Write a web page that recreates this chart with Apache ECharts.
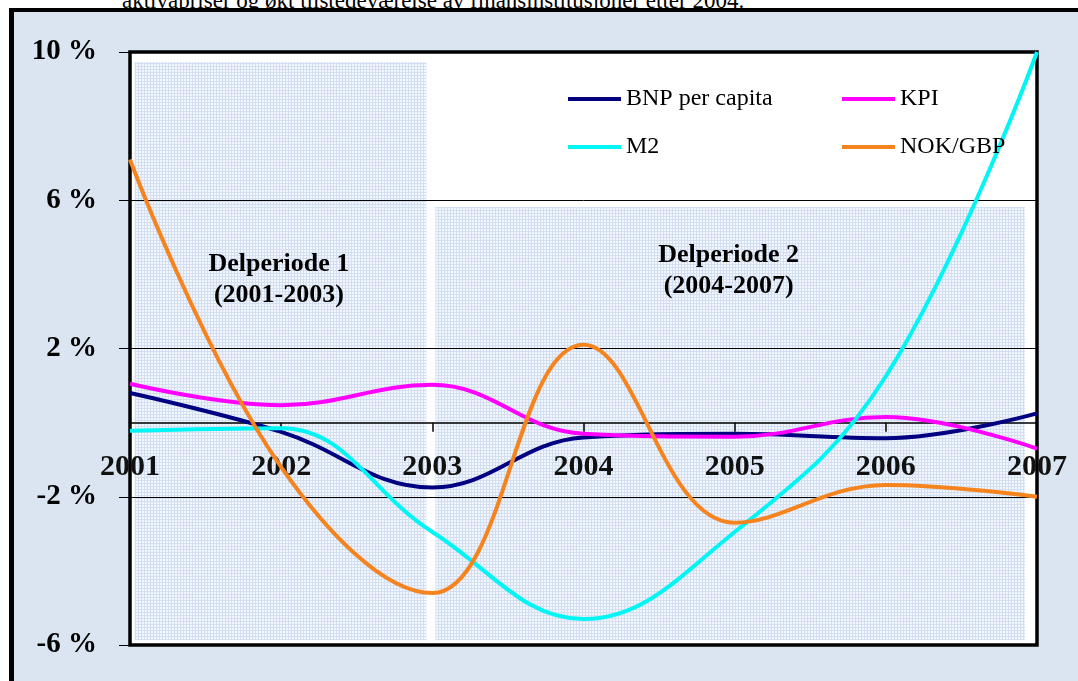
<!DOCTYPE html>
<html>
<head>
<meta charset="utf-8">
<script src="https://cdn.jsdelivr.net/npm/echarts@6/dist/echarts.min.js"></script>
<style>
  html, body { margin: 0; padding: 0; background: #fff; width: 1078px; height: 681px; overflow: hidden; }
  #caption { position: absolute; left: 122px; top: -11px; font: 23px/23px "Liberation Serif", "Times New Roman", serif; color: #000; white-space: nowrap; z-index: 0; }
  #frame { position: absolute; left: 9px; top: 8px; width: 1200px; height: 800px; border-left: 5px solid #000; border-top: 4px solid #000; background: #dbe5f1; z-index: 1; }
  #chart { position: absolute; left: 0; top: 0; width: 1078px; height: 681px; z-index: 2; }
</style>
</head>
<body>
<div id="caption">aktivapriser og økt tilstedeværelse av finansinstitusjoner etter 2004.</div>
<div id="frame"></div>
<div id="chart"></div>
<script>
// Annual growth rates, per cent
const years = [2001, 2002, 2003, 2004, 2005, 2006, 2007];
const bnpPerCapita = [0.8, -0.25, -1.75, -0.4, -0.3, -0.42, 0.25];
const kpi = [1.05, 0.47, 1.02, -0.3, -0.38, 0.15, -0.7];
const m2 = [-0.22, -0.15, -2.95, -5.3, -2.95, 1.25, 10];
const nokGbp = [7.1, -1.2, -4.6, 2.1, -2.7, -1.68, -2.0];

const seriesNames = ['BNP per capita', 'KPI', 'M2', 'NOK/GBP'];
const seriesColors = ['#000080', '#ff00ff', '#00f5f5', '#f5841f'];

// Sub-periods: [from year, to year, upper value, lower value]
const periods = [
  [2001.03, 2002.96, 9.73, -5.87],
  [2003.02, 2006.92, 5.82, -5.87]
];
const periodTitles = ['Delperiode 1\n(2001-2003)', 'Delperiode 2\n(2004-2007)'];
const periodTitleAnchors = [[2001.985, 3.85], [2004.96, 4.09]];

const yTicks = { min: -6, max: 10, step: 4 };

const serif = '"Liberation Serif", "Times New Roman", serif';

// plot rectangle inside the 1078x681 canvas
const gridBox = { left: 130, right: 41, top: 52, bottom: 36 };
const plotHeight = 681 - gridBox.top - gridBox.bottom;
// the year axis crosses the value axis at 0 %
const yearAxisOffset = -plotHeight * (0 - yTicks.min) / (yTicks.max - yTicks.min);

function dotPattern() {
  const c = document.createElement('canvas');
  c.width = 3; c.height = 3;
  const g = c.getContext('2d');
  g.fillStyle = '#f3f6fc';
  g.fillRect(0, 0, 3, 3);
  g.fillStyle = '#d2dff2';
  g.fillRect(0, 0, 3, 1);
  g.fillRect(0, 0, 1, 3);
  return c;
}

const pairs = vals => years.map((y, i) => [y, vals[i]]);
const valueSets = [bnpPerCapita, kpi, m2, nokGbp];

const chart = echarts.init(document.getElementById('chart'), null, { renderer: 'canvas' });

const lineSeries = seriesNames.map((name, i) => ({
  name,
  type: 'line',
  data: pairs(valueSets[i]),
  smooth: 0.4,
  showSymbol: false,
  color: seriesColors[i],
  lineStyle: { width: 4, color: seriesColors[i] },
  z: 3
}));

const option = {
  animation: false,
  backgroundColor: 'transparent',
  grid: Object.assign({
    show: true, backgroundColor: '#fff', borderColor: '#000', borderWidth: 3.5,
    containLabel: false, outerBoundsMode: 'none'
  }, gridBox),
  xAxis: {
    type: 'value', min: years[0], max: years[years.length - 1], interval: 1, z: 1.5,
    position: 'bottom', offset: yearAxisOffset,
    axisLine: { onZero: false, lineStyle: { color: '#000', width: 1.5 } },
    axisTick: { length: 9, lineStyle: { color: '#000', width: 1.5 } },
    axisLabel: {
      margin: 30, fontFamily: serif, fontWeight: 'bold', fontSize: 30, color: '#111',
      showMinLabel: true, showMaxLabel: true, formatter: v => String(v)
    },
    splitLine: { show: false }
  },
  yAxis: {
    type: 'value', min: yTicks.min, max: yTicks.max, interval: yTicks.step, z: 1.5,
    axisLine: { show: false },
    axisTick: { show: true, length: 11, lineStyle: { color: '#000', width: 1 } },
    axisLabel: {
      margin: 33, fontFamily: serif, fontWeight: 'bold', fontSize: 29, color: '#000',
      formatter: v => v + ' %'
    },
    splitLine: { lineStyle: { color: '#000', width: 1 } }
  },
  legend: seriesNames.map((name, i) => ({
    data: [name],
    left: i % 2 ? 842 : 568,
    top: i < 2 ? 87 : 135,
    padding: 0,
    icon: 'rect', itemWidth: 53, itemHeight: 4,
    selectedMode: false,
    textStyle: { fontFamily: serif, fontSize: 24, lineHeight: 24, color: '#000' }
  })),
  series: [
    {
      name: 'periods',
      type: 'line',
      data: [],
      z: 1,
      markArea: {
        silent: true,
        z: 1,
        itemStyle: { color: { image: dotPattern(), repeat: 'repeat' } },
        data: periods.map(p => [{ coord: [p[0], p[2]] }, { coord: [p[1], p[3]] }])
      }
    },
    ...lineSeries,
    {
      name: 'period titles',
      type: 'scatter',
      data: periodTitleAnchors,
      symbolSize: 0,
      z: 4,
      silent: true,
      itemStyle: { color: 'transparent', opacity: 1 },
      label: {
        show: true, position: 'inside',
        formatter: p => periodTitles[p.dataIndex],
        fontFamily: serif, fontWeight: 'bold', fontSize: 26, lineHeight: 31,
        color: '#000', opacity: 1
      }
    }
  ]
};

chart.setOption(option);
</script>
</body>
</html>
